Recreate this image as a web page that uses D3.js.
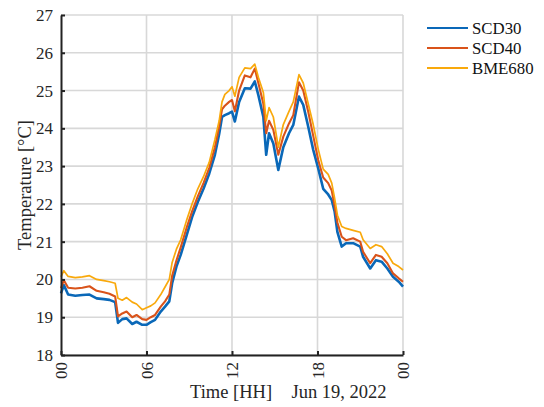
<!DOCTYPE html>
<html>
<head>
<meta charset="utf-8">
<script src="https://cdn.jsdelivr.net/npm/d3@7"></script>
<style>
  body { margin: 0; background: #fff; }
  svg { display: block; }
  text { font-family: 'Liberation Serif', 'Times New Roman', serif; }
</style>
</head>
<body>
<div id="chart"></div>
<script>
// Hours since midnight, Jun 19, 2022
const hours = [0, 0.2, 0.5, 1, 1.5, 2, 2.5, 3, 3.4, 3.8, 4.0, 4.3, 4.6, 5.0, 5.3, 5.7, 6.0, 6.3, 6.6, 7.0,
  7.3, 7.6, 7.8, 8.1, 8.4, 8.8, 9.2, 9.6, 10.0, 10.4, 10.8, 11.1, 11.3, 11.5, 11.8, 12.0, 12.2, 12.5, 12.9, 13.3,
  13.6, 13.85, 14.2, 14.4, 14.6, 14.9, 15.25, 15.6, 16.0, 16.3, 16.7, 17.0, 17.35, 17.7, 18.05, 18.4, 18.75, 19.0, 19.2, 19.4,
  19.7, 20.0, 20.5, 21.0, 21.2, 21.7, 22.1, 22.5, 22.9, 23.3, 23.7, 24.0];

const scd30 = [19.63, 19.85, 19.6, 19.57, 19.59, 19.6, 19.5, 19.48, 19.46, 19.4, 18.85, 18.95, 18.97, 18.82, 18.88, 18.8, 18.8, 18.87, 18.93, 19.15,
  19.28, 19.42, 19.9, 20.34, 20.65, 21.15, 21.65, 22.05, 22.4, 22.8, 23.3, 23.85, 24.3, 24.35, 24.4, 24.44, 24.18, 24.7, 25.06, 25.05,
  25.24, 24.88, 24.3, 23.3, 23.87, 23.6, 22.9, 23.5, 23.87, 24.09, 24.84, 24.62, 24.04, 23.43, 22.94, 22.4, 22.25, 22.1, 21.8, 21.25,
  20.87, 20.96, 20.96, 20.87, 20.6, 20.29, 20.51, 20.47, 20.29, 20.07, 19.94, 19.81];

const scd40 = [19.77, 19.98, 19.78, 19.76, 19.78, 19.82, 19.7, 19.66, 19.62, 19.55, 19.02, 19.1, 19.15, 19.0, 19.06, 18.95, 18.93, 19.0, 19.06, 19.28,
  19.42, 19.6, 20.1, 20.5, 20.85, 21.35, 21.8, 22.2, 22.55, 22.95, 23.5, 24.05, 24.5, 24.6, 24.7, 24.75, 24.45, 25.0, 25.4, 25.35,
  25.58, 25.2, 24.65, 23.87, 24.2, 23.96, 23.3, 23.78, 24.13, 24.35, 25.22, 25.0, 24.44, 23.8, 23.16, 22.7, 22.55, 22.35, 21.95, 21.5,
  21.13, 21.04, 21.09, 21.0, 20.73, 20.43, 20.65, 20.6, 20.43, 20.16, 20.03, 19.94];

const bme680 = [20.07, 20.23, 20.08, 20.05, 20.07, 20.1, 20.0, 19.97, 19.94, 19.9, 19.5, 19.45, 19.52, 19.4, 19.35, 19.2, 19.25, 19.3, 19.38, 19.6,
  19.8, 20.0, 20.45, 20.8, 21.05, 21.55, 22.0, 22.4, 22.72, 23.1, 23.7, 24.2, 24.7, 24.9, 25.0, 25.1, 24.85, 25.35, 25.6, 25.58,
  25.7, 25.35, 24.95, 24.2, 24.55, 24.3, 23.5, 24.1, 24.45, 24.7, 25.42, 25.2, 24.65, 24.1, 23.45, 22.92, 22.78, 22.55, 22.15, 21.7,
  21.4, 21.35, 21.3, 21.25, 21.05, 20.82, 20.92, 20.87, 20.68, 20.43, 20.34, 20.25];

const seriesNames = ['SCD30', 'SCD40', 'BME680'];
const seriesColors = ['#0a68b8', '#d9531a', '#f9a90c'];
const seriesWidths = [2.6, 2.1, 1.7];

const xTicks = [0, 6, 12, 18, 24];
const xTickLabels = ['00', '06', '12', '18', '00'];
const yTicks = [18, 19, 20, 21, 22, 23, 24, 25, 26, 27];

const width = 544;
const height = 407;
const margin = { top: 15, right: 141, bottom: 52, left: 61 };
const serif = "'Liberation Serif', 'Times New Roman', serif";

const svg = d3.select('#chart')
  .append('svg')
  .attr('width', width)
  .attr('height', height);

const x = d3.scaleLinear()
  .domain([0, 24])
  .range([margin.left, width - margin.right]);

const y = d3.scaleLinear()
  .domain([18, 27])
  .range([height - margin.bottom, margin.top]);

// Grid
const grid = svg.append('g')
  .attr('stroke', '#d8d8d8')
  .attr('stroke-width', 1.6);

grid.selectAll('line.h')
  .data(yTicks)
  .join('line')
  .attr('class', 'h')
  .attr('x1', x(0))
  .attr('x2', x(24))
  .attr('y1', d => y(d))
  .attr('y2', d => y(d));

grid.selectAll('line.v')
  .data(xTicks.slice(1))
  .join('line')
  .attr('class', 'v')
  .attr('x1', d => x(d))
  .attr('x2', d => x(d))
  .attr('y1', y(18))
  .attr('y2', y(27));

// Series lines (blue underneath, yellow on top)
const allSeries = [scd30, scd40, bme680];
const line = d3.line()
  .x((d, i) => x(hours[i]))
  .y(d => y(d));

svg.append('g')
  .selectAll('path')
  .data(allSeries)
  .join('path')
  .attr('fill', 'none')
  .attr('stroke', (d, i) => seriesColors[i])
  .attr('stroke-width', (d, i) => seriesWidths[i])
  .attr('stroke-linejoin', 'round')
  .attr('d', line);

// Axes
const xAxis = d3.axisBottom(x)
  .tickValues(xTicks)
  .tickFormat((d, i) => xTickLabels[i])
  .tickSizeInner(-4)
  .tickSizeOuter(0);

const gx = svg.append('g')
  .attr('transform', `translate(0,${y(18)})`)
  .call(xAxis);

gx.select('.domain').attr('stroke', '#222').attr('stroke-width', 2);
gx.selectAll('.tick line').attr('stroke', '#222').attr('stroke-width', 2);
gx.selectAll('.tick text')
  .attr('font-family', serif)
  .attr('font-size', 17)
  .attr('fill', '#262626')
  .attr('text-anchor', 'end')
  .attr('dy', '0.35em')
  .attr('transform', 'translate(0,7) rotate(-90)')
  .attr('x', 0)
  .attr('y', 0);

const yAxis = d3.axisLeft(y)
  .tickValues(yTicks)
  .tickSizeInner(-4)
  .tickSizeOuter(0)
  .tickPadding(8);

const gy = svg.append('g')
  .attr('transform', `translate(${x(0)},0)`)
  .call(yAxis);

gy.select('.domain').attr('stroke', '#222').attr('stroke-width', 2);
gy.selectAll('.tick line').attr('stroke', '#222').attr('stroke-width', 2);
gy.selectAll('.tick text')
  .attr('font-family', serif)
  .attr('font-size', 17)
  .attr('fill', '#262626');

// Axis labels
svg.append('text')
  .attr('transform', `translate(31,${(y(18) + y(27)) / 2}) rotate(-90)`)
  .attr('text-anchor', 'middle')
  .attr('font-family', serif)
  .attr('font-size', 18.5)
  .attr('fill', '#262626')
  .text('Temperature [°C]');

svg.append('text')
  .attr('x', 190)
  .attr('y', 398)
  .attr('font-family', serif)
  .attr('font-size', 18.5)
  .attr('fill', '#262626')
  .text('Time [HH]');

svg.append('text')
  .attr('x', 291.5)
  .attr('y', 398)
  .attr('font-family', serif)
  .attr('font-size', 18.5)
  .attr('fill', '#262626')
  .text('Jun 19, 2022');

// Legend
const legend = svg.append('g')
  .attr('transform', 'translate(427,28)');

const legendItem = legend.selectAll('g')
  .data(seriesNames)
  .join('g')
  .attr('transform', (d, i) => `translate(0,${i * 20})`);

legendItem.append('line')
  .attr('x1', 0)
  .attr('x2', 41)
  .attr('stroke', (d, i) => seriesColors[i])
  .attr('stroke-width', 2);

legendItem.append('text')
  .attr('x', 45)
  .attr('y', 6)
  .attr('font-family', serif)
  .attr('font-size', 16.8)
  .attr('fill', '#111')
  .text(d => d);
</script>
</body>
</html>
